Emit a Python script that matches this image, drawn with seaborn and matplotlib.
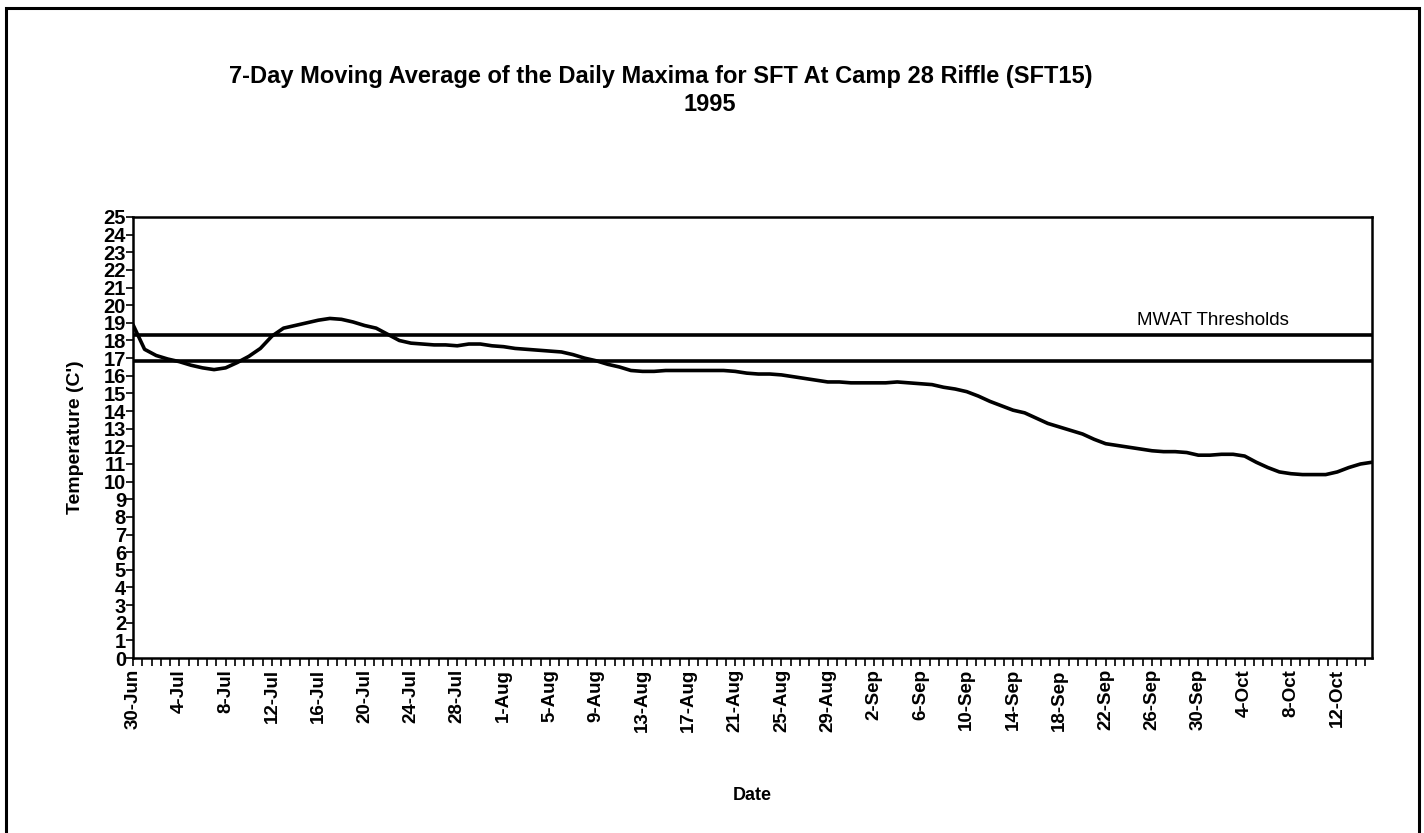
import numpy as np
import pandas as pd
import matplotlib
matplotlib.use("Agg")
import matplotlib.pyplot as plt
import seaborn as sns
from matplotlib import font_manager
from matplotlib.ticker import MultipleLocator, FixedLocator, FixedFormatter
from matplotlib.patches import Rectangle

# ---------------- data ----------------
start_date = "1995-06-30"
temps = [18.9, 17.5, 17.15, 16.95, 16.8, 16.6, 16.45, 16.35, 16.45, 16.75,
         17.1, 17.55, 18.25, 18.7, 18.85, 19.0, 19.15, 19.25, 19.2, 19.05,
         18.85, 18.7, 18.35, 18.0, 17.85, 17.8, 17.75, 17.75, 17.7, 17.8,
         17.8, 17.7, 17.65, 17.55, 17.5, 17.45, 17.4, 17.35, 17.2, 17.0,
         16.85, 16.65, 16.5, 16.3, 16.25, 16.25, 16.3, 16.3, 16.3, 16.3,
         16.3, 16.3, 16.25, 16.15, 16.1, 16.1, 16.05, 15.95, 15.85, 15.75,
         15.65, 15.65, 15.6, 15.6, 15.6, 15.6, 15.65, 15.6, 15.55, 15.5,
         15.35, 15.25, 15.1, 14.85, 14.55, 14.3, 14.05, 13.9, 13.6, 13.3,
         13.1, 12.9, 12.7, 12.4, 12.15, 12.05, 11.95, 11.85, 11.75, 11.7,
         11.7, 11.65, 11.5, 11.5, 11.55, 11.55, 11.45, 11.1, 10.8, 10.55,
         10.45, 10.4, 10.4, 10.4, 10.55, 10.8, 11.0, 11.1]
mwat_thresholds = [18.3, 16.85]
threshold_label = "MWAT Thresholds"
title_line1 = "7-Day Moving Average of the Daily Maxima for SFT At Camp 28 Riffle (SFT15)"
title_line2 = "1995"
xlabel = "Date"
ylabel = "Temperature (C')"
label_every_days = 4
y_ticks = list(range(0, 26))

dates = pd.date_range(start_date, periods=len(temps), freq="D")
df = pd.DataFrame({"day": np.arange(len(temps)), "temp": temps})

# ---------------- style ----------------
sns.set_theme(style="white")
available = {f.name for f in font_manager.fontManager.ttflist}
base = "Liberation Sans" if "Liberation Sans" in available else "DejaVu Sans"
narrow = "Liberation Sans Narrow" if "Liberation Sans Narrow" in available else base
plt.rcParams["font.family"] = [base, "DejaVu Sans"]
for key in ["text.color", "axes.labelcolor", "xtick.color", "ytick.color"]:
    plt.rcParams[key] = "black"

fig = plt.figure(figsize=(14.24, 8.33), dpi=100)
ax = fig.add_axes([0.0934, 0.21, 0.8701, 0.5295])

sns.lineplot(data=df, x="day", y="temp", ax=ax, color="black", linewidth=2.6)
for t in mwat_thresholds:
    ax.axhline(t, color="black", linewidth=2.6)

ax.text(86.7, 18.9, threshold_label, fontsize=13.5, color="black",
        ha="left", va="baseline")

ax.set_xlim(0, len(temps) - 1)
ax.set_ylim(0, 25)

# y axis
ax.yaxis.set_major_locator(FixedLocator(y_ticks))
ax.set_yticklabels([str(v) for v in y_ticks], fontsize=14.5, fontweight="bold")
ax.tick_params(axis="y", which="major", direction="out", length=5, width=1.2,
               pad=0, left=True, colors="black")

# x axis
label_pos = list(range(0, len(temps) - 1, label_every_days))
label_txt = [f"{dates[i].day}-{dates[i].strftime('%b')}" for i in label_pos]
ax.xaxis.set_major_locator(FixedLocator(label_pos))
ax.xaxis.set_major_formatter(FixedFormatter(label_txt))
ax.xaxis.set_minor_locator(MultipleLocator(0.8))
ax.tick_params(axis="x", which="both", direction="out", length=6, width=1.2,
               bottom=True, colors="black")
ax.tick_params(axis="x", which="major", pad=2)
for lab in ax.get_xticklabels():
    lab.set_rotation(90)
    lab.set_fontsize(13.5)
    lab.set_fontweight("bold")

ax.set_xlabel(xlabel, fontsize=13, fontweight="bold")
ax.set_ylabel(ylabel, fontsize=14, fontweight="bold")
ax.xaxis.set_label_coords(0.4996, -0.311)
ax.yaxis.set_label_coords(-0.0468, 0.5)
ax.xaxis.label.set_va("center")
ax.yaxis.label.set_va("center")

for s in ax.spines.values():
    s.set_color("black")
    s.set_linewidth(1.8)
    s.set_visible(True)
ax.grid(False)

fig.text(0.464, 0.9076, title_line1, ha="center", va="center",
         fontsize=17, fontweight="bold", family=[narrow, base], color="black")
fig.text(0.4986, 0.874, title_line2, ha="center", va="center",
         fontsize=17, fontweight="bold", family=[narrow, base], color="black")

fig.patches.append(Rectangle((0.0042, -0.05), 0.9923, 1.0404, transform=fig.transFigure,
                             fill=False, edgecolor="black", linewidth=2.2))

fig.savefig("out.png", dpi=100, facecolor="white")
